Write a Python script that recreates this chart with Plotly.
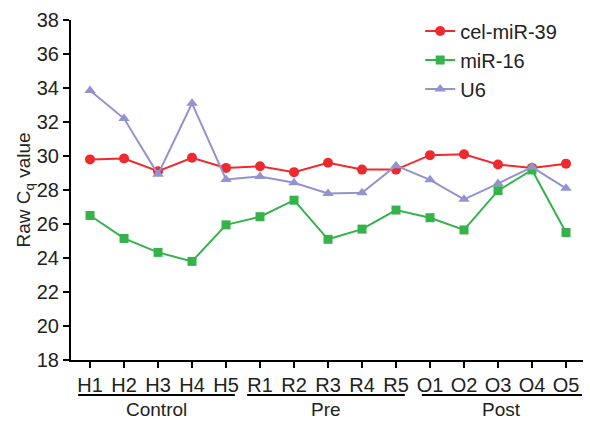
import plotly.graph_objects as go

categories = ["H1", "H2", "H3", "H4", "H5", "R1", "R2", "R3", "R4", "R5",
              "O1", "O2", "O3", "O4", "O5"]
cel_mir39 = [29.8, 29.85, 29.1, 29.9, 29.3, 29.4, 29.05, 29.6, 29.2, 29.2,
             30.05, 30.1, 29.5, 29.3, 29.55]
mir16 = [26.5, 25.15, 24.33, 23.8, 25.95, 26.43, 27.4, 25.1, 25.7, 26.82,
         26.37, 25.65, 27.96, 29.18, 25.5]
u6 = [33.85, 32.2, 28.92, 33.1, 28.62, 28.8, 28.43, 27.8, 27.84, 29.43,
      28.6, 27.45, 28.38, 29.35, 28.1]
groups = ["Control", "Pre", "Post"]
group_spans = [(-0.35, 4.26), (4.62, 9.26), (9.76, 14.47)]
y_ticks = [18, 20, 22, 24, 26, 28, 30, 32, 34, 36, 38]

FONT = "Liberation Sans, Arial, Helvetica, sans-serif"

fig = go.Figure()
fig.add_trace(go.Scatter(x=categories, y=cel_mir39, name="cel-miR-39",
                         mode="lines+markers",
                         line=dict(color="#ee2a2e", width=2),
                         marker=dict(symbol="circle", size=10, color="#ee2a2e")))
fig.add_trace(go.Scatter(x=categories, y=mir16, name="miR-16",
                         mode="lines+markers",
                         line=dict(color="#35b34a", width=2),
                         marker=dict(symbol="square", size=9, color="#35b34a")))
fig.add_trace(go.Scatter(x=categories, y=u6, name="U6",
                         mode="lines+markers",
                         line=dict(color="#9393cf", width=2),
                         marker=dict(symbol="triangle-up", size=10, color="#9393cf")))

for name, (x0, x1) in zip(groups, group_spans):
    fig.add_shape(type="line", xref="x", yref="paper", x0=x0, x1=x1,
                  y0=-0.103, y1=-0.103, line=dict(color="black", width=2))
    fig.add_annotation(text=name, xref="x", yref="paper", x=(x0 + x1) / 2,
                       y=-0.147, showarrow=False, yanchor="middle",
                       font=dict(family=FONT, size=19, color="#222"))

fig.update_layout(
    width=590, height=422,
    margin=dict(l=71, r=7, t=20, b=62),
    paper_bgcolor="white", plot_bgcolor="white",
    font=dict(family=FONT, size=20, color="#222"),
    showlegend=True,
    legend=dict(x=0.682, y=1.025, xanchor="left", yanchor="top",
                bgcolor="rgba(0,0,0,0)", font=dict(size=20),
                itemwidth=30, tracegroupgap=0),
    xaxis=dict(type="category", range=[-0.56, 14.5], showline=True,
               linecolor="black", linewidth=2, ticks="outside", ticklen=6,
               tickwidth=2, tickcolor="black", showgrid=False, zeroline=False,
               tickfont=dict(size=20)),
    yaxis=dict(range=[18, 38], tickvals=y_ticks, showline=True,
               linecolor="black", linewidth=2, ticks="outside", ticklen=6,
               tickwidth=2, tickcolor="black", showgrid=False, zeroline=False,
               tickfont=dict(size=20),
               title=dict(text="Raw C<sub>q</sub> value", font=dict(size=19),
                          standoff=0)),
)

fig.write_html("out.html")
